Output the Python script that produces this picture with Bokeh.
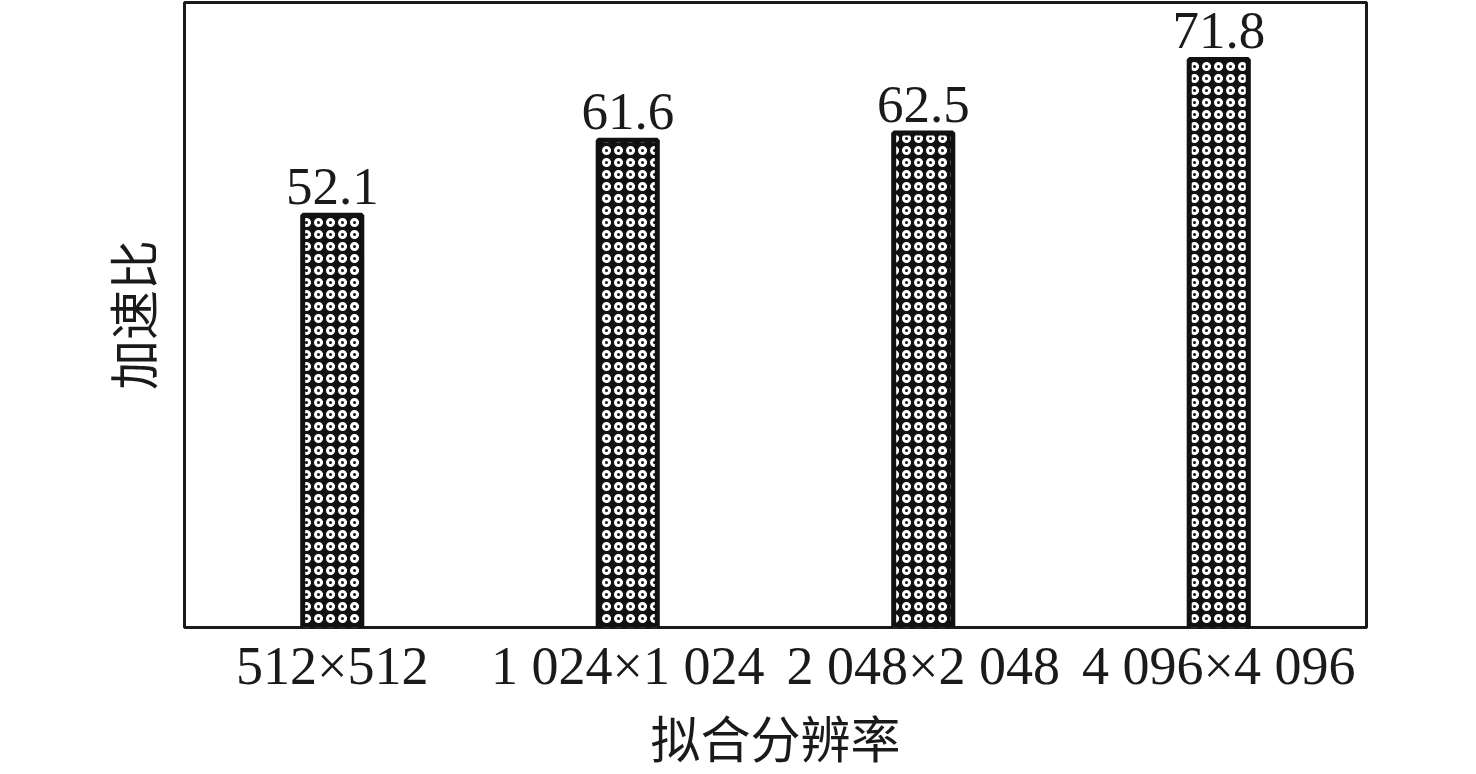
from bokeh.plotting import figure
from bokeh.models import ColumnDataSource, LabelSet, FixedTicker
from bokeh.embed import file_html
from bokeh.resources import INLINE

resolutions = ["512×512", "1 024×1 024", "2 048×2 048", "4 096×4 096"]
speedup = [52.1, 61.6, 62.5, 71.8]
speedup_text = ["52.1", "61.6", "62.5", "71.8"]

src = ColumnDataSource(dict(x=resolutions, y=speedup, t=speedup_text))

p = figure(x_range=resolutions, y_range=(0, 79), width=1476, height=774,
           output_backend="svg", toolbar_location=None,
           min_border_left=184, min_border_right=110,
           min_border_top=2, min_border_bottom=146)
p.background_fill_color = "white"
p.border_fill_color = "white"
p.outline_line_color = "#1a1a1a"
p.outline_line_width = 3
p.xgrid.visible = False
p.ygrid.visible = False

# hatched bars with heavy outline
p.vbar(x="x", top="y", width=0.2, source=src,
       fill_color="#111111", line_color="#111111", line_width=5,
       hatch_pattern="ring", hatch_color="white", hatch_scale=12, hatch_weight=3)

# value labels above each bar
labels = LabelSet(x="x", y="y", text="t", source=src, text_align="center",
                  text_baseline="bottom", y_offset=11,
                  text_font="Liberation Serif", text_font_size="53px",
                  text_color="#1a1a1a")
p.add_layout(labels)

for ax in (p.xaxis, p.yaxis):
    ax.axis_line_color = None
    ax.major_tick_line_color = None
    ax.minor_tick_line_color = None
    ax.major_tick_out = 0
    ax.major_tick_in = 0

p.yaxis.ticker = FixedTicker(ticks=[])
p.yaxis.axis_label = "加速比"
p.yaxis.axis_label_text_font = "Noto Sans CJK SC"
p.yaxis.axis_label_text_font_size = "50px"
p.yaxis.axis_label_text_font_style = "normal"
p.yaxis.axis_label_text_color = "#1a1a1a"
p.yaxis.axis_label_standoff = 18

p.xaxis.major_label_text_font = "Liberation Serif"
p.xaxis.major_label_text_font_size = "54px"
p.xaxis.major_label_text_color = "#1a1a1a"
p.xaxis.major_label_standoff = 8
p.xaxis.axis_label = "拟合分辨率"
p.xaxis.axis_label_text_font = "Noto Sans CJK SC"
p.xaxis.axis_label_text_font_size = "50px"
p.xaxis.axis_label_text_font_style = "normal"
p.xaxis.axis_label_text_color = "#1a1a1a"
p.xaxis.axis_label_standoff = 1

open("out.html", "w").write(file_html(p, INLINE))
